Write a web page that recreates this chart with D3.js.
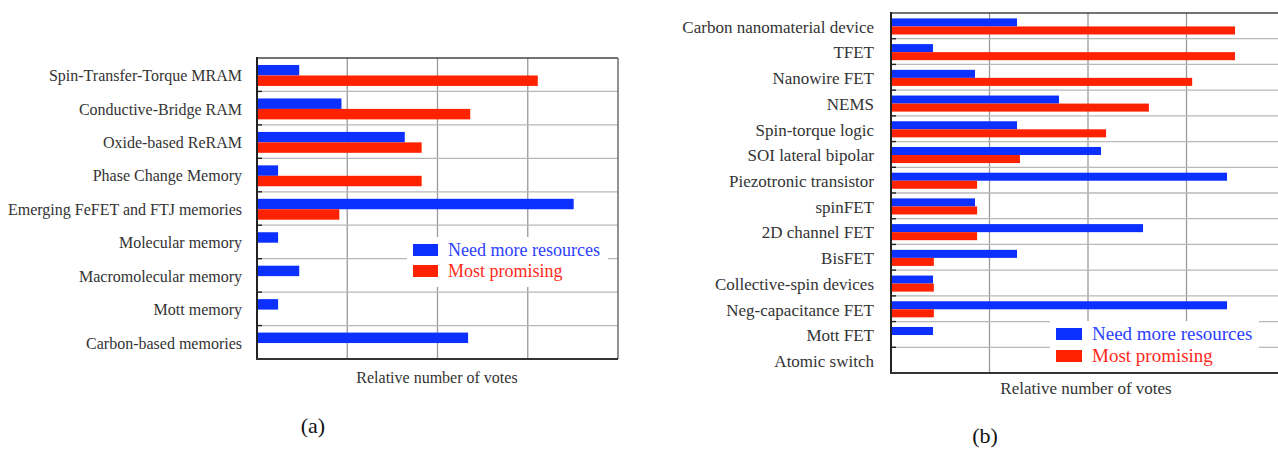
<!DOCTYPE html>
<html>
<head>
<meta charset="utf-8">
<script src="https://cdn.jsdelivr.net/npm/d3@7"></script>
<style>
  html, body { margin: 0; padding: 0; background: #ffffff; }
  svg { display: block; }
  text { font-family: "Liberation Serif", "Times New Roman", serif; }
</style>
</head>
<body>
<svg id="chart" width="1278" height="449"></svg>
<script>
// Panel (a): memory technologies
const memoryCategories = [
  "Spin-Transfer-Torque MRAM",
  "Conductive-Bridge RAM",
  "Oxide-based ReRAM",
  "Phase Change Memory",
  "Emerging FeFET and FTJ memories",
  "Molecular memory",
  "Macromolecular memory",
  "Mott memory",
  "Carbon-based memories"
];
const memoryNeedResources = [2, 4, 7, 1, 15, 1, 2, 1, 10];
const memoryPromising     = [13.3, 10.1, 7.8, 7.8, 3.9, 0, 0, 0, 0];

// Panel (b): logic devices
const logicCategories = [
  "Carbon nanomaterial device",
  "TFET",
  "Nanowire FET",
  "NEMS",
  "Spin-torque logic",
  "SOI lateral bipolar",
  "Piezotronic transistor",
  "spinFET",
  "2D channel FET",
  "BisFET",
  "Collective-spin devices",
  "Neg-capacitance FET",
  "Mott FET",
  "Atomic switch"
];
const logicNeedResources = [3, 1, 2, 4, 3, 5, 8, 2, 6, 3, 1, 8, 1, 0];
const logicPromising     = [8.19, 8.19, 7.17, 6.14, 5.12, 3.07, 2.05, 2.05, 2.05, 1.02, 1.02, 1.02, 0, 0];

const seriesNames  = ["Need more resources", "Most promising"];
const seriesColors = ["#0b30ff", "#ff2200"];
const textColors   = ["#2c40ff", "#ff2a1a"];
const axisTitle = "Relative number of votes";
const serif = "'Liberation Serif', 'Times New Roman', serif";

const svg = d3.select("#chart");

function drawPanel(p) {
  const g = svg.append("g").attr("font-family", serif);

  const x = d3.scaleLinear().domain([0, p.xMax]).range([p.left, p.right]);
  const y = d3.scaleBand().domain(p.categories).range([p.top, p.bottom]).paddingInner(0).paddingOuter(0);
  const inner = d3.scaleBand().domain(seriesNames).range([0, y.bandwidth()])
    .paddingInner(0).paddingOuter(0.6).align(0.56);

  // Gridlines: vertical at quarters of the axis, horizontal at band boundaries
  const vTicks = [1, 2, 3].map(k => p.xMax * k / 4);
  g.append("g").selectAll("line").data(vTicks).join("line")
    .attr("x1", d => x(d)).attr("x2", d => x(d))
    .attr("y1", p.top).attr("y2", p.bottom)
    .attr("stroke", "#9a9a9a").attr("stroke-width", 1.3);

  const bounds = p.categories.slice(1);
  g.append("g").selectAll("line").data(bounds).join("line")
    .attr("x1", p.left).attr("x2", p.right)
    .attr("y1", d => y(d)).attr("y2", d => y(d))
    .attr("stroke", "#b8b8b8").attr("stroke-width", 1.3);

  // Frame: top and right in gray, left and bottom axes dark
  g.append("line").attr("x1", p.left).attr("x2", p.right).attr("y1", p.top).attr("y2", p.top)
    .attr("stroke", "#444").attr("stroke-width", 1.6);
  g.append("line").attr("x1", p.right).attr("x2", p.right).attr("y1", p.top).attr("y2", p.bottom)
    .attr("stroke", "#777").attr("stroke-width", 1.6);

  // Bars
  const rows = p.categories.map((c, i) => ({ c, vals: [p.need[i], p.promising[i]] }));
  const barG = g.append("g");
  rows.forEach(r => {
    r.vals.forEach((v, s) => {
      if (v <= 0) return;
      barG.append("rect")
        .attr("x", x(0))
        .attr("y", y(r.c) + inner(seriesNames[s]))
        .attr("width", x(v) - x(0))
        .attr("height", inner.bandwidth())
        .attr("fill", seriesColors[s]);
    });
  });

  // Left axis with inward ticks at band boundaries
  g.append("g").selectAll("line").data(bounds).join("line")
    .attr("x1", p.left).attr("x2", p.left + 5)
    .attr("y1", d => y(d)).attr("y2", d => y(d))
    .attr("stroke", "#222").attr("stroke-width", 1.4);
  g.append("line").attr("x1", p.left).attr("x2", p.left).attr("y1", p.top - 1).attr("y2", p.bottom + 1)
    .attr("stroke", "#222").attr("stroke-width", 2);
  g.append("line").attr("x1", p.left - 1).attr("x2", p.right).attr("y1", p.bottom).attr("y2", p.bottom)
    .attr("stroke", "#333").attr("stroke-width", 2);

  // Category labels
  g.append("g").selectAll("text").data(p.categories).join("text")
    .attr("x", p.left - p.labelGap)
    .attr("y", d => y(d) + y.bandwidth() / 2)
    .attr("dy", "0.4em")
    .attr("text-anchor", "end")
    .attr("font-size", p.labelSize)
    .attr("fill", "#333")
    .text(d => d);

  // Legend on a white panel
  const L = p.legend;
  const lg = g.append("g");
  lg.append("rect").attr("x", L.x).attr("y", L.y).attr("width", L.w).attr("height", L.h).attr("fill", "#fff");
  seriesNames.forEach((name, s) => {
    const sy = L.swY + s * L.step;
    lg.append("rect").attr("x", L.swX).attr("y", sy).attr("width", L.swW).attr("height", L.swH)
      .attr("fill", seriesColors[s]);
    lg.append("text").attr("x", L.textX).attr("y", sy + L.swH - 0.5)
      .attr("font-size", L.size).attr("fill", textColors[s]).text(name);
  });

  // Axis title and panel tag
  g.append("text").attr("x", (p.left + p.titleCenterOffset)).attr("y", p.titleY)
    .attr("text-anchor", "middle").attr("font-size", p.titleSize).attr("fill", "#333")
    .text(axisTitle);
  g.append("text").attr("x", p.tagX).attr("y", p.tagY)
    .attr("text-anchor", "middle").attr("font-size", 22).attr("fill", "#111")
    .text(p.tag);
}

drawPanel({
  categories: memoryCategories, need: memoryNeedResources, promising: memoryPromising,
  xMax: 17.1, left: 257, right: 618, top: 58, bottom: 359,
  labelGap: 15, labelSize: 16,
  legend: { x: 407, y: 237, w: 201, h: 50, swX: 413, swY: 244, swW: 25, swH: 12, step: 21, textX: 448, size: 18 },
  titleCenterOffset: 180, titleY: 383, titleSize: 16,
  tag: "(a)", tagX: 313, tagY: 433
});

drawPanel({
  categories: logicCategories, need: logicNeedResources, promising: logicPromising,
  xMax: 9.38, left: 891, right: 1285, top: 13, bottom: 373,
  labelGap: 17, labelSize: 17,
  legend: { x: 1050, y: 321, w: 209, h: 51, swX: 1056, swY: 328, swW: 26, swH: 12, step: 22, textX: 1092, size: 19 },
  titleCenterOffset: 195, titleY: 394, titleSize: 17,
  tag: "(b)", tagX: 985, tagY: 443
});
</script>
</body>
</html>
